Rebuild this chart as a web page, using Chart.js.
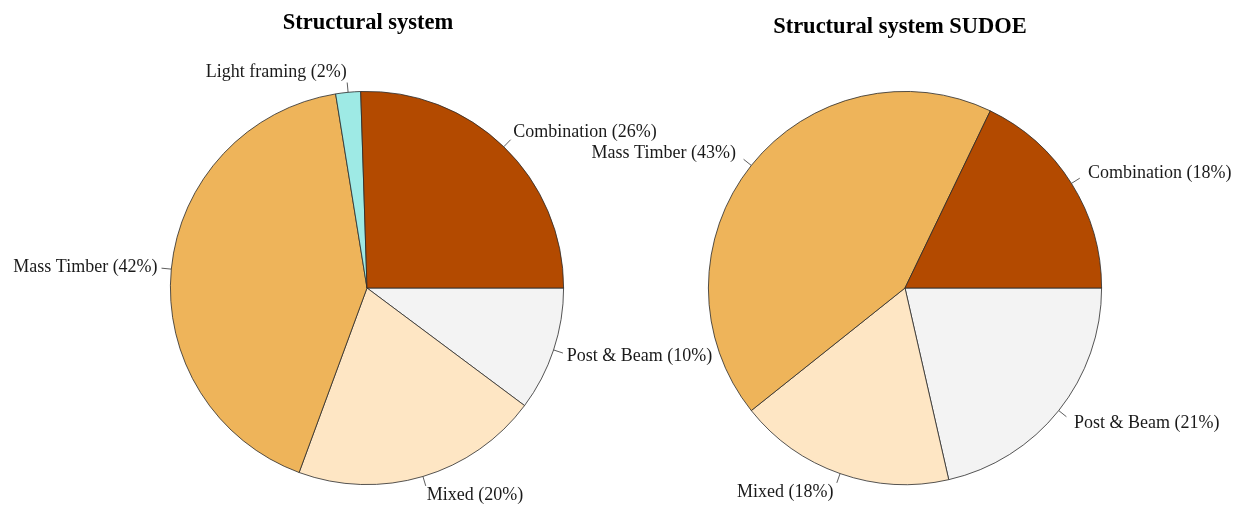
<!DOCTYPE html>
<html><head><meta charset="utf-8">
<script src="https://cdn.jsdelivr.net/npm/chart.js@4.4.0/dist/chart.umd.min.js"></script>
<style>
html,body{margin:0;padding:0;background:#fff;}
#wrap{position:relative;width:1243px;height:506px;}
.c{position:absolute;top:0;left:0;width:1243px;height:506px;}
</style></head><body>
<div id="wrap">
<div class="c"><canvas id="c1"></canvas></div>
<div class="c"><canvas id="c2"></canvas></div>
</div>
<script>
// Data (R pie order: counterclockwise from 3 o'clock)
const categories1 = ["Combination", "Light framing", "Mass Timber", "Mixed", "Post & Beam"];
const counts1 = [25, 2, 41, 20, 10];
const colors1 = ["#B34A00", "#9EEAE5", "#EEB45A", "#FEE6C4", "#F3F3F3"];
const title1 = "Structural system";

const categories2 = ["Combination", "Mass Timber", "Mixed", "Post & Beam"];
const counts2 = [5, 12, 5, 6];
const colors2 = ["#B34A00", "#EEB45A", "#FEE6C4", "#F3F3F3"];
const title2 = "Structural system SUDOE";

const FONT = '"Liberation Serif", "Times New Roman", serif';

const labelPlugin = {
  id: 'rlabels',
  afterDraw(chart, args, opts) {
    const ctx = chart.ctx;
    const meta = chart.getDatasetMeta(0);
    const data = chart.data.datasets[0].data;
    const labels = chart.data.labels;
    const total = data.reduce((a, b) => a + b, 0);
    ctx.save();
    meta.data.forEach((arc, i) => {
      const p = arc.getProps(['x', 'y', 'startAngle', 'endAngle', 'outerRadius'], true);
      const mid = (p.startAngle + p.endAngle) / 2;
      const c = Math.cos(mid), s = Math.sin(mid);
      const r = p.outerRadius;
      ctx.strokeStyle = '#333';
      ctx.lineWidth = 0.8;
      ctx.beginPath();
      ctx.moveTo(p.x + r * c, p.y + r * s);
      ctx.lineTo(p.x + 1.05 * r * c, p.y + 1.05 * r * s);
      ctx.stroke();
      ctx.fillStyle = '#1a1a1a';
      ctx.font = '18px ' + FONT;
      ctx.textBaseline = 'middle';
      ctx.textAlign = c >= 0 ? 'left' : 'right';
      const pct = Math.round(data[i] / total * 100);
      ctx.fillText(labels[i] + ' (' + pct + '%)', p.x + opts.fx * r * c, p.y + opts.fy * r * s);
    });
    ctx.fillStyle = '#000';
    ctx.font = 'bold 22.5px ' + FONT;
    ctx.textAlign = 'center';
    ctx.textBaseline = 'middle';
    ctx.fillText(opts.text, opts.x, opts.y);
    ctx.restore();
  }
};

function makePie(id, cats, vals, cols, title, pad, tpos, fx, fy) {
  // Chart.js draws clockwise; reverse to reproduce R's counterclockwise order
  const L = cats.slice().reverse(), V = vals.slice().reverse(), C = cols.slice().reverse();
  new Chart(document.getElementById(id), {
    type: 'pie',
    data: { labels: L, datasets: [{ data: V, backgroundColor: C, borderColor: '#2a2a2a', borderWidth: 0.8, hoverOffset: 0 }] },
    options: {
      responsive: true, maintainAspectRatio: false, animation: false,
      events: [],
      rotation: 90,
      layout: { padding: pad },
      plugins: { legend: { display: false }, tooltip: { enabled: false },
        rlabels: { text: title, x: tpos.x, y: tpos.y, fx: fx, fy: fy } }
    },
    plugins: [labelPlugin]
  });
}

makePie('c1', categories1, counts1, colors1, title1, { top: 91, bottom: 21, left: 170, right: 679 }, { x: 368, y: 23 }, 1.07, 1.1);
makePie('c2', categories2, counts2, colors2, title2, { top: 91, bottom: 21, left: 708, right: 141 }, { x: 900, y: 27 }, 1.1, 1.1);
</script>
</body></html>
